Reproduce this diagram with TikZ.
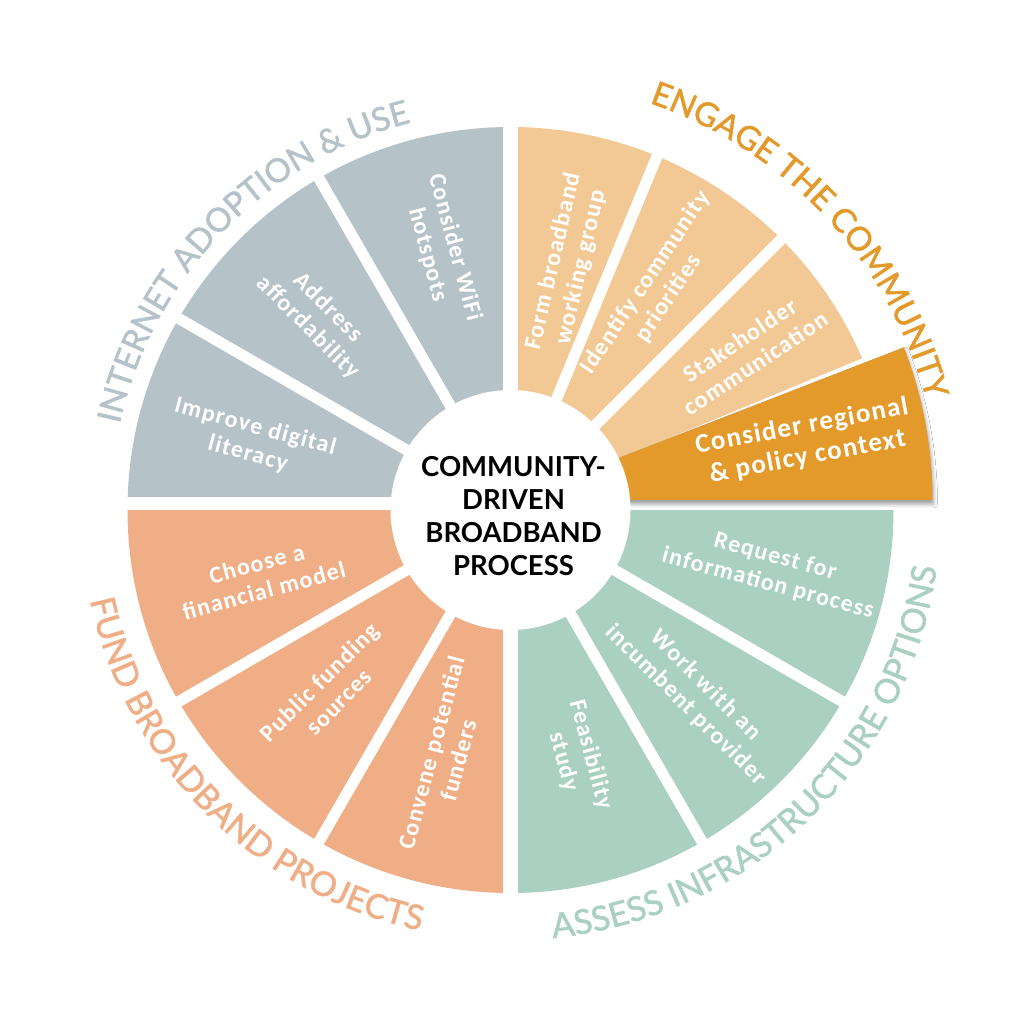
\documentclass[tikz,border=0pt]{standalone}
\usepackage{fontspec}
\setmainfont{Carlito}
\newfontfamily\segfont{Carlito}[LetterSpace=5]
\newfontfamily\lblfont{Lato}[FakeBold=1.5]
\newfontfamily\ctrfont{Lato}
\usetikzlibrary{decorations.text,shadows.blur}
\definecolor{cGray}{RGB}{181,195,201}
\definecolor{cLOr}{RGB}{242,201,148}
\definecolor{cOr}{RGB}{227,154,42}
\definecolor{cGreen}{RGB}{170,208,193}
\definecolor{cSalmon}{RGB}{240,174,134}
\newcommand\wheelsector[3]{\fill[#1] (0,0) -- (#2:383) arc[start angle=#2,end angle=#3,radius=383] -- cycle;}
\tikzset{
  segtxt/.style={text=white, align=center, inner sep=0pt,
    font=\segfont\bfseries\fontsize{24}{28}\selectfont},
  hitxt/.style={segtxt, font=\segfont\bfseries\fontsize{27}{31}\selectfont},
  gapline/.style={white, line width=11pt},
  ctrtxt/.style={align=center, text=black, inner sep=0pt,
    font=\ctrfont\bfseries\fontsize{27.5}{33}\selectfont},
  arclabel/.style={decorate, decoration={text along path, text align=center, text={#1}}}
}
\begin{document}
\begin{tikzpicture}[x=1pt,y=1pt]
\useasboundingbox[fill=white] (-510.5,-514) rectangle (513.5,510);
% quadrant fills
\wheelsector{cLOr}{22.5}{90}
\wheelsector{cGray}{90}{180}
\wheelsector{cSalmon}{180}{270}
\wheelsector{cGreen}{270}{360}
% gaps
\foreach \a in {22.5,45,67.5,120,150,210,240,300,330}
  \draw[gapline] (0,0) -- (\a:400);
\fill[white] (-7.5,-400) rectangle (7.5,400);
\fill[white] (-400,0) rectangle (400,12.7);
% highlighted segment
\coordinate (apex) at (0,10);
\fill[cOr, blur shadow={shadow xshift=1pt, shadow yshift=-4pt, shadow blur radius=4pt, shadow opacity=40}]
  (apex) -- ++(0:422) arc[start angle=0,end angle=21.2,radius=422] -- cycle;
% centre disc
\fill[white] (0,0) circle (120);
\node[ctrtxt] (ctr) at (3,-6) {COMMUNITY-\\DRIVEN\\BROADBAND\\PROCESS};
% segment texts
\node[segtxt, rotate=77] (s1) at (77:252) {Form broadband\\working group};
\node[segtxt, rotate=56.25] (s2) at (56.25:264) {Identify community\\priorities};
\node[segtxt, rotate=33.75] (s3) at (33.75:285) {Stakeholder\\communication};
\node[hitxt, rotate=10.6] (s4) at ($(apex)+(11.2:300)$) {Consider regional\\\& policy context};
\node[segtxt, rotate=-15] (s5) at (-13:268) {Request for\\information process};
\node[segtxt, rotate=-45] (s6) at (-45:262) {Work with an\\incumbent provider};
\node[segtxt, rotate=-75] (s7) at (-75:257) {Feasibility\\study};
\node[segtxt, rotate=75] (s8) at (255:255) {Convene potential\\funders};
\node[segtxt, rotate=45] (s9) at (225:257) {Public funding\\sources};
\node[segtxt, rotate=15] (s10) at (195:259) {Choose a\\financial model};
\node[segtxt, rotate=-15] (s11) at (165:268) {Improve digital\\literacy};
\node[segtxt, rotate=-45] (s12) at (135:272) {Address\\affordability};
\node[segtxt, rotate=-75] (s13) at (105:268) {Consider WiFi\\hotspots};
% outer arc labels
\path[arclabel={|\lblfont\fontsize{33}{40}\selectfont\color{cGray}|INTERNET ADOPTION {\&} USE}]
  (181:400) arc[start angle=181,end angle=91,radius=400];
\path[arclabel={|\lblfont\fontsize{33}{40}\selectfont\color{cOr}|ENGAGE THE COMMUNITY}]
  (88:430) arc[start angle=88,end angle=-2,radius=430];
\path[arclabel={|\lblfont\fontsize{34}{40}\selectfont\color{cGreen}|ASSESS INFRASTRUCTURE OPTIONS}]
  (-91:430) arc[start angle=-91,end angle=-1,radius=430];
\path[arclabel={|\lblfont\fontsize{34}{40}\selectfont\color{cSalmon}|FUND BROADBAND PROJECTS}]
  (180:430) arc[start angle=180,end angle=270,radius=430];
\end{tikzpicture}
\end{document}
